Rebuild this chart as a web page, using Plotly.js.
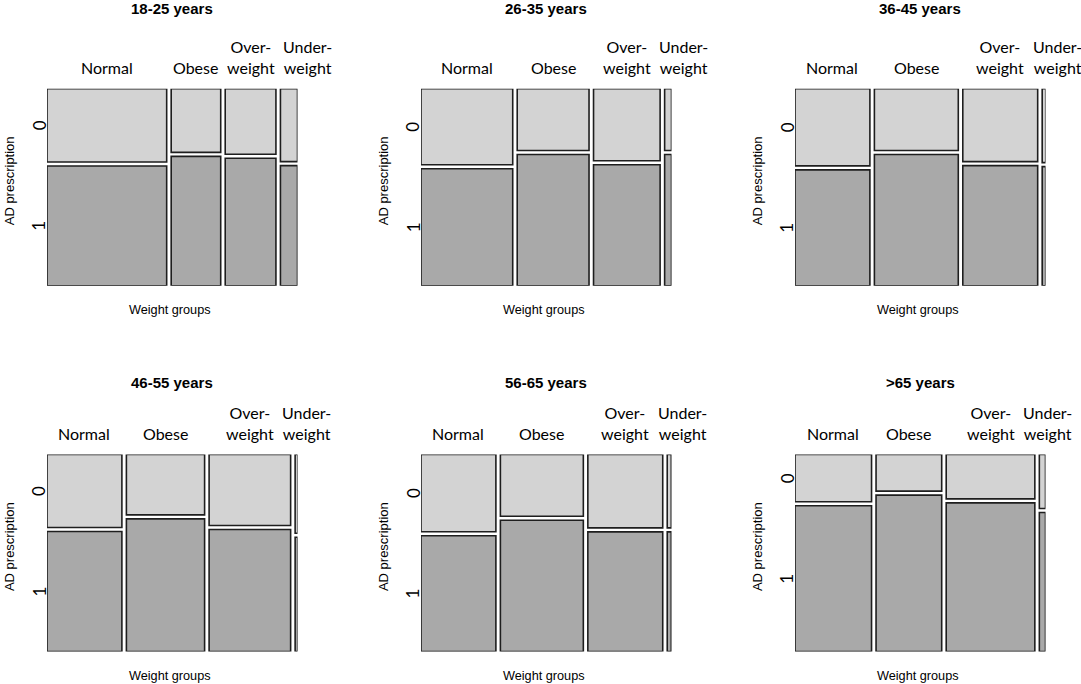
<!DOCTYPE html>
<html><head><meta charset="utf-8">
<script src="https://cdn.plot.ly/plotly-3.0.1.min.js"></script>
<style>html,body{margin:0;padding:0;background:#fff}#chart{width:1081px;height:684px}</style>
</head><body><div id="chart"></div>
<script>
// ---------- DATA ----------
const ageGroups = ['18-25 years', '26-35 years', '36-45 years', '46-55 years', '56-65 years', '>65 years'];
const weightGroups = ['Normal', 'Obese', 'Over-<br>weight', 'Under-<br>weight'];
const prescriptionLevels = ['0', '1'];
// share of each weight group within the age group (column widths)
const share1825 = [0.505, 0.209, 0.214, 0.072];
const share2635 = [0.387, 0.303, 0.281, 0.029];
const share3645 = [0.316, 0.354, 0.316, 0.015];
const share4655 = [0.316, 0.330, 0.344, 0.011];
const share5665 = [0.316, 0.350, 0.316, 0.017];
const share65p  = [0.323, 0.277, 0.374, 0.026];
// proportion with AD prescription = 0 within each weight group
const noAD1825 = [0.380, 0.330, 0.340, 0.378];
const noAD2635 = [0.394, 0.320, 0.373, 0.320];
const noAD3645 = [0.400, 0.320, 0.378, 0.383];
const noAD4655 = [0.378, 0.313, 0.368, 0.408];
const noAD5665 = [0.400, 0.320, 0.380, 0.380];
const noAD65p  = [0.245, 0.190, 0.230, 0.280];

const groupShares = [share1825, share2635, share3645, share4655, share5665, share65p];
const noADShares = [noAD1825, noAD2635, noAD3645, noAD4655, noAD5665, noAD65p];

// ---------- LAYOUT ----------
const W = 1081, H = 684;
const colLeft = [47, 421, 795], colW = 250.5;
const rowTop = [88.7, 454.5], rowH = 197;
const titleY = [8, 382], labelBottom = [79, 445], xTitleY = [310, 676];
const gx = 0.019, gy = 0.0207;
const xmax = 1 + 3 * gx, ymax = 1 + gy;
const pxPerUnit = colW / xmax;

const lightGray = '#d3d3d3', darkGray = '#a9a9a9', edge = '#1e1e1e';
const sansR = 'Liberation Sans, Arial, sans-serif';
const labelFont = 'Lato, Carlito, sans-serif';

const traces = [];
const layout = {
  width: W, height: H,
  margin: {l: 0, r: 0, t: 0, b: 0},
  paper_bgcolor: '#fff', plot_bgcolor: '#fff',
  showlegend: false, barmode: 'overlay',
  annotations: []
};

for (let i = 0; i < 6; i++) {
  const col = i % 3, row = Math.floor(i / 3);
  const sfx = i === 0 ? '' : String(i + 1);
  const xa = 'x' + sfx, ya = 'y' + sfx;
  layout['xaxis' + sfx] = {
    domain: [colLeft[col] / W, (colLeft[col] + colW) / W],
    range: [0, xmax], visible: false, fixedrange: true, anchor: ya
  };
  layout['yaxis' + sfx] = {
    domain: [1 - (rowTop[row] + rowH) / H, 1 - rowTop[row] / H],
    range: [0, ymax], visible: false, fixedrange: true, anchor: xa
  };

  const widths = groupShares[i];
  const p0 = noADShares[i];
  const p1 = p0.map(v => 1 - v);
  const centers = [];
  let left = 0;
  widths.forEach((w, j) => { centers.push(left + w / 2); left += w + gx; });

  traces.push({
    type: 'bar', xaxis: xa, yaxis: ya, name: prescriptionLevels[1],
    x: centers, width: widths, y: p1, base: widths.map(() => 0),
    marker: {color: darkGray, line: {color: edge, width: 1.6}},
    hoverinfo: 'skip'
  });
  traces.push({
    type: 'bar', xaxis: xa, yaxis: ya, name: prescriptionLevels[0],
    x: centers, width: widths, y: p0, base: p1.map(v => v + gy),
    marker: {color: lightGray, line: {color: edge, width: 1.6}},
    hoverinfo: 'skip'
  });

  // title
  layout.annotations.push({
    text: '<b>' + ageGroups[i] + '</b>', showarrow: false,
    xref: xa + ' domain', x: 0.5, yref: 'paper', y: 1 - titleY[row] / H,
    xanchor: 'center', yanchor: 'middle',
    font: {family: sansR, size: 15, color: '#000'}
  });

  // weight-group labels above columns
  const labelX = centers.slice();
  const minSep = 57 / pxPerUnit;
  labelX[3] = Math.max(labelX[3], labelX[2] + minSep);
  weightGroups.forEach((g, j) => {
    const xIn = Math.min(labelX[j], xmax * 0.98);
    layout.annotations.push({
      text: g, showarrow: false,
      xref: xa, x: xIn, xshift: (labelX[j] - xIn) * pxPerUnit,
      yref: 'paper', y: 1 - labelBottom[row] / H,
      xanchor: 'center', yanchor: 'bottom',
      font: {family: labelFont, size: 16, color: '#000'}
    });
  });

  // y level labels (aligned with first column)
  layout.annotations.push({
    text: prescriptionLevels[0], showarrow: false, textangle: -90,
    xref: 'paper', x: (colLeft[col] - 8) / W, yref: ya, y: (p1[0] + gy + ymax) / 2,
    xanchor: 'center', yanchor: 'middle',
    font: {family: labelFont, size: 17, color: '#000'}
  });
  layout.annotations.push({
    text: prescriptionLevels[1], showarrow: false, textangle: -90,
    xref: 'paper', x: (colLeft[col] - 8) / W, yref: ya, y: p1[0] / 2,
    xanchor: 'center', yanchor: 'middle',
    font: {family: labelFont, size: 17, color: '#000'}
  });

  // axis titles
  layout.annotations.push({
    text: 'AD prescription', showarrow: false, textangle: -90,
    xref: 'paper', x: (colLeft[col] - 38) / W, yref: ya + ' domain', y: 0.53,
    xanchor: 'center', yanchor: 'middle',
    font: {family: sansR, size: 13, color: '#000'}
  });
  layout.annotations.push({
    text: 'Weight groups', showarrow: false,
    xref: xa + ' domain', x: 0.49, yref: 'paper', y: 1 - xTitleY[row] / H,
    xanchor: 'center', yanchor: 'middle',
    font: {family: sansR, size: 12.7, color: '#000'}
  });
}

Plotly.newPlot('chart', traces, layout, {staticPlot: true, displayModeBar: false});
</script>
</body></html>
